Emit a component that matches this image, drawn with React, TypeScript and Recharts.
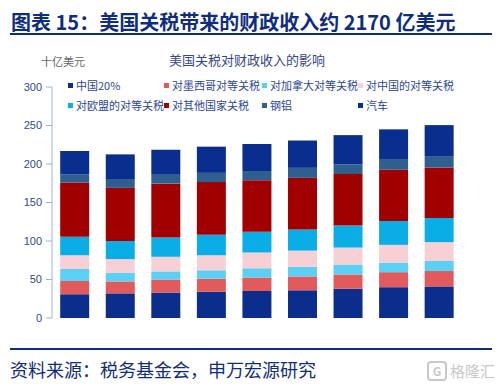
import React from "react";
import { BarChart, Bar, XAxis, YAxis } from "recharts";

const years = ["2025", "2026", "2027", "2028", "2029", "2030", "2031", "2032", "2033"];
const china20 = [31, 32, 33, 34, 35, 36, 38, 40, 41];
const mexico = [17, 15.5, 17, 17, 17.5, 18, 18.5, 19.5, 20];
const canada = [15.5, 11, 10.5, 11, 12, 12.5, 13, 12.5, 13];
const chinaRecip = [18, 18, 19, 19.5, 20.5, 21, 22, 23, 24.5];
const eu = [24, 23.5, 25, 26.5, 27, 27.5, 28.5, 31, 31.5];
const others = [70.5, 69, 70, 68.5, 67, 67, 67, 66.5, 65.5];
const steel = [10.5, 11.5, 11.5, 12, 12, 13, 12.5, 14, 14];
const autos = [30.5, 32, 32.5, 34, 35, 35.5, 38, 38.5, 41];
const yTicks = [0, 50, 100, 150, 200, 250, 300];

const series = [
  { key: "china20", name: "中国20%", color: "#0B2E8C", values: china20 },
  { key: "mexico", name: "对墨西哥对等关税", color: "#E15A5C", values: mexico },
  { key: "canada", name: "对加拿大对等关税", color: "#5CCFF4", values: canada },
  { key: "chinaRecip", name: "对中国的对等关税", color: "#F6D0D4", values: chinaRecip },
  { key: "eu", name: "对欧盟的对等关税", color: "#0BADE6", values: eu },
  { key: "others", name: "对其他国家关税", color: "#A10000", values: others },
  { key: "steel", name: "钢铝", color: "#2F5F8F", values: steel },
  { key: "autos", name: "汽车", color: "#0A2E8E", values: autos },
];

const data = years.map((year, i) => {
  const row: Record<string, string | number> = { year };
  series.forEach((s) => {
    row[s.key] = s.values[i];
  });
  return row;
});

const edgeTicks = years.map((_, i) => i).concat([years.length]);

const font = '"Liberation Sans", "Noto Sans CJK SC", sans-serif';
const navy = "#0E2D80";
const tickColor = "#2F4A8C";
const axisColor = "#9DB3D3";

const legendCols = [68, 164, 262, 358];

export default function App() {
  return (
    <div
      style={{
        position: "absolute",
        left: 0,
        top: 0,
        width: 501,
        height: 385,
        background: "#fff",
        fontFamily: font,
        overflow: "hidden",
      }}
    >
      <div
        style={{
          position: "absolute",
          left: 11,
          top: 9,
          fontSize: 20,
          fontWeight: 700,
          color: navy,
          whiteSpace: "nowrap",
          fontFamily: '"Noto Sans CJK SC", sans-serif',
          lineHeight: "26px",
        }}
      >
        图表 15：美国关税带来的财政收入约 2170 亿美元
      </div>
      <div style={{ position: "absolute", left: 10, top: 33, width: 482, height: 2, background: navy }} />
      <div
        style={{
          position: "absolute",
          left: 41,
          top: 53,
          fontSize: 11,
          color: "#666",
          fontFamily: '"Noto Sans CJK SC", sans-serif',
        }}
      >
        十亿美元
      </div>
      <div
        style={{
          position: "absolute",
          left: 169,
          top: 50,
          fontSize: 13,
          color: "#34458C",
          whiteSpace: "nowrap",
          fontFamily: '"Noto Sans CJK SC", sans-serif',
        }}
      >
        美国关税对财政收入的影响
      </div>

      <div style={{ position: "absolute", left: 0, top: 0 }}>
        <BarChart
          width={501}
          height={385}
          data={data}
          margin={{ top: 87, right: 39, bottom: 67, left: 0 }}
          barCategoryGap="18%"
        >
          <XAxis
            xAxisId="cat"
            dataKey="year"
            height={0}
            axisLine={false}
            tickLine={false}
            tickSize={0}
            tickMargin={12}
            tick={{ fontSize: 11, fill: tickColor, fontFamily: font }}
          />
          <XAxis
            xAxisId="edge"
            type="number"
            domain={[0, years.length]}
            ticks={edgeTicks}
            allowDataOverflow
            height={0}
            axisLine={{ stroke: axisColor }}
            tickLine={{ stroke: axisColor }}
            tickSize={5}
            tickFormatter={() => ""}
          />
          <YAxis
            width={52}
            domain={[0, 300]}
            ticks={yTicks}
            axisLine={{ stroke: axisColor }}
            tickLine={{ stroke: axisColor }}
            tickSize={6}
            tickMargin={4}
            tick={{ fontSize: 11, fill: tickColor, fontFamily: font }}
          />
          {series.map((s) => (
            <Bar
              key={s.key}
              xAxisId="cat"
              dataKey={s.key}
              name={s.name}
              stackId="a"
              fill={s.color}
              isAnimationActive={false}
            />
          ))}
        </BarChart>
      </div>

      {series.map((s, i) => {
        const row = Math.floor(i / 4);
        const col = i % 4;
        return (
          <div
            key={s.key}
            style={{
              position: "absolute",
              left: legendCols[col],
              top: 77 + row * 20,
              height: 16,
              display: "flex",
              alignItems: "center",
              whiteSpace: "nowrap",
              fontSize: 11,
              color: "#2B4796",
              fontFamily: '"Noto Sans CJK SC", sans-serif',
            }}
          >
            <span style={{ width: 5, height: 5, background: s.color, marginRight: 3, display: "inline-block" }} />
            {s.name}
          </div>
        );
      })}

      <div style={{ position: "absolute", left: 10, top: 348, width: 482, height: 2, background: navy }} />
      <div
        style={{
          position: "absolute",
          left: 10,
          top: 356,
          fontSize: 18,
          color: navy,
          whiteSpace: "nowrap",
          fontFamily: '"Noto Sans CJK SC", sans-serif',
          lineHeight: "26px",
        }}
      >
        资料来源：税务基金会，申万宏源研究
      </div>
      <div
        style={{
          position: "absolute",
          left: 427,
          top: 360,
          display: "flex",
          alignItems: "center",
          fontSize: 15,
          color: "#C8C8C8",
          fontFamily: '"Noto Sans CJK SC", sans-serif',
          whiteSpace: "nowrap",
        }}
      >
        <span
          style={{
            width: 16,
            height: 16,
            border: "2px solid #C8C8C8",
            borderRadius: 4,
            fontSize: 12,
            lineHeight: "16px",
            textAlign: "center",
            marginRight: 3,
            fontWeight: 700,
          }}
        >
          G
        </span>
        格隆汇
      </div>
    </div>
  );
}
